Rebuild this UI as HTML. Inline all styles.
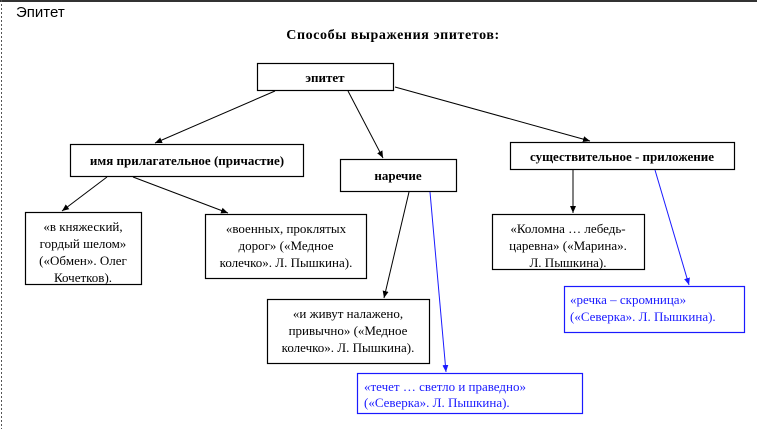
<!DOCTYPE html>
<html><head><meta charset="utf-8"><style>
html,body{margin:0;padding:0;background:#fff}
svg{display:block}
.t{font-family:"Liberation Serif",serif;font-size:13px;fill:#000}
.b{font-weight:bold}
.bl{fill:#1a1aff}
</style></head><body>
<svg width="757" height="429" viewBox="0 0 757 429" xmlns="http://www.w3.org/2000/svg">
<defs>
<marker id="a" markerWidth="8" markerHeight="8" refX="7" refY="4" orient="auto" markerUnits="userSpaceOnUse"><path d="M0,1 L7,4 L0,7 z" fill="#000"/></marker>
<marker id="ab" markerWidth="8" markerHeight="8" refX="7" refY="4" orient="auto" markerUnits="userSpaceOnUse"><path d="M0,1 L7,4 L0,7 z" fill="#1a1aff"/></marker>
</defs>
<rect x="0" y="0" width="757" height="429" fill="#fff"/>
<rect x="0" y="0" width="757" height="2" fill="#333"/>
<line x1="1.5" y1="0" x2="1.5" y2="429" stroke="#555" stroke-dasharray="2,2"/>
<text x="16" y="17" font-family="Liberation Sans,sans-serif" font-size="15" fill="#000">Эпитет</text>
<text x="393" y="39" text-anchor="middle" class="t b" style="font-size:14px;letter-spacing:0.6px">Способы выражения эпитетов:</text>

<g fill="#fff" stroke="#000" stroke-width="1.2">
<rect x="257.5" y="63.5" width="136" height="27"/>
<rect x="70.5" y="144.5" width="233" height="32"/>
<rect x="340.5" y="159.5" width="116" height="32"/>
<rect x="510.5" y="142.5" width="224" height="27"/>
<rect x="25.5" y="212.5" width="116" height="72"/>
<rect x="205.5" y="214.5" width="161" height="64"/>
<rect x="492.5" y="214.5" width="152" height="55"/>
<rect x="267.5" y="299.5" width="162" height="64"/>
</g>
<g fill="#fff" stroke="#1a1aff" stroke-width="1.2">
<rect x="357.5" y="373.5" width="225" height="40"/>
<rect x="564.5" y="286.5" width="180" height="46"/>
</g>

<g stroke="#000" stroke-width="1" marker-end="url(#a)">
<line x1="275" y1="91" x2="155" y2="143"/>
<line x1="348" y1="91" x2="383" y2="158"/>
<line x1="395" y1="87" x2="590" y2="141"/>
<line x1="107" y1="177" x2="62" y2="211"/>
<line x1="133" y1="177" x2="228" y2="213"/>
<line x1="409" y1="192" x2="384" y2="298"/>
<line x1="573" y1="170" x2="573" y2="213"/>
</g>
<g stroke="#1a1aff" stroke-width="1" marker-end="url(#ab)">
<line x1="430" y1="192" x2="446" y2="372"/>
<line x1="655" y1="170" x2="689" y2="285"/>
</g>

<text x="325" y="82" text-anchor="middle" class="t b">эпитет</text>
<text x="187" y="165" text-anchor="middle" class="t b">имя прилагательное (причастие)</text>
<text x="398" y="180" text-anchor="middle" class="t b">наречие</text>
<text x="622" y="161" text-anchor="middle" class="t b">существительное - приложение</text>

<g class="t" text-anchor="middle">
<text x="83" y="231">«в княжеский,</text>
<text x="83" y="248">гордый шелом»</text>
<text x="83" y="265">(«Обмен». Олег</text>
<text x="83" y="282">Кочетков).</text>
<text x="286" y="233">«военных, проклятых</text>
<text x="286" y="250">дорог» («Медное</text>
<text x="286" y="267">колечко». Л. Пышкина).</text>
<text x="568" y="233">«Коломна … лебедь-</text>
<text x="568" y="250">царевна» («Марина».</text>
<text x="568" y="267">Л. Пышкина).</text>
<text x="348" y="318">«и живут налажено,</text>
<text x="348" y="335">привычно» («Медное</text>
<text x="348" y="352">колечко». Л. Пышкина).</text>
</g>
<g class="t bl">
<text x="364" y="391">«течет … светло и праведно»</text>
<text x="364" y="407">(«Северка». Л. Пышкина).</text>
<text x="570" y="304">«речка – скромница»</text>
<text x="570" y="321">(«Северка». Л. Пышкина).</text>
</g>
</svg>
</body></html>
